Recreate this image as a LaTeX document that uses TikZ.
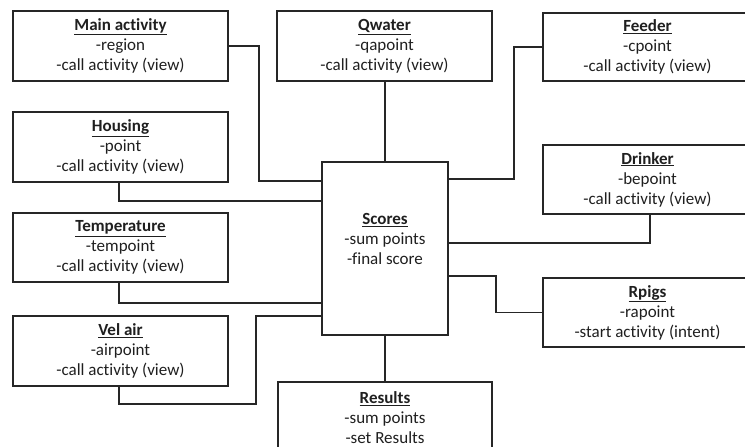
\documentclass[tikz,border=0pt]{standalone}
\usepackage{fontspec}
\setmainfont[Ligatures=NoCommon]{Carlito}
\begin{document}
\begin{tikzpicture}[x=1pt,y=-1pt,
  box/.style={draw=black!85, line width=1.3pt, rectangle, inner sep=0pt, align=center,
    font=\fontsize{17}{20}\selectfont, text=black!88},
  conn/.style={draw=black!85, line width=1.3pt}]
\useasboundingbox (0,0) rectangle (745,447);
\clip (0,0) rectangle (745,447);
\newcommand{\ttlx}[1]{\underline{\textbf{#1}}}
% left column
\node[box, minimum width=215pt, minimum height=70pt] (main) at (120.5,46)
  {\ttlx{Main activity}\\-region\\-call activity (view)};
\node[box, minimum width=215pt, minimum height=70pt] (housing) at (120.5,147)
  {\ttlx{Housing}\\-point\\-call activity (view)};
\node[box, minimum width=215pt, minimum height=69pt] (temp) at (120.5,247.5)
  {\ttlx{Temperature}\\-tempoint\\-call activity (view)};
\node[box, minimum width=215pt, minimum height=70pt] (velair) at (120.5,351)
  {\ttlx{Vel air}\\-airpoint\\-call activity (view)};
% middle column
\node[box, minimum width=215pt, minimum height=70pt] (qwater) at (384.5,46)
  {\ttlx{Qwater}\\-qapoint\\-call activity (view)};
\node[box, minimum width=126pt, minimum height=173pt] (scores) at (385,248.5) {};
\node[align=center, inner sep=0pt, font=\fontsize{17}{20}\selectfont, text=black!88] (scorestxt) at (385,239)
  {\ttlx{Scores}\\-sum points\\-final score};
\node[box, minimum width=214pt, minimum height=72pt] (results) at (385,418)
  {\ttlx{Results}\\-sum points\\-set Results};
% right column
\node[box, minimum width=209pt, minimum height=68pt] (feeder) at (647.5,47)
  {\ttlx{Feeder}\\-cpoint\\-call activity (view)};
\node[box, minimum width=209pt, minimum height=69pt] (drinker) at (647.5,179.5)
  {\ttlx{Drinker}\\-bepoint\\-call activity (view)};
\node[box, minimum width=209pt, minimum height=69pt] (rpigs) at (647.5,312.5)
  {\ttlx{Rpigs}\\-rapoint\\-start activity (intent)};
% connectors
\draw[conn] (main.east) -- (259,46) -- (259,181) -- (scores.west |- 0,181);
\draw[conn] ([xshift=-1.5pt]housing.south) -- (119,201) -- (scores.west |- 0,201);
\draw[conn] ([xshift=-1.5pt]temp.south) -- (119,303) -- (scores.west |- 0,303);
\draw[conn] ([xshift=-1.5pt]velair.south) -- (119,404) -- (256,404) -- (256,316) -- (scores.west |- 0,316);
\draw[conn] ([xshift=0.5pt]qwater.south) -- ([xshift=0pt]scores.north);
\draw[conn] (scores.south) -- (results.north);
\draw[conn] (feeder.west) -- (514,47) -- (514,179) -- (scores.east |- 0,179);
\draw[conn] ([xshift=2.5pt]drinker.south) -- (650,243) -- (scores.east |- 0,243);
\draw[conn] (scores.east |- 0,276) -- (496,276) -- (496,312.5) -- (rpigs.west);
\end{tikzpicture}
\end{document}
